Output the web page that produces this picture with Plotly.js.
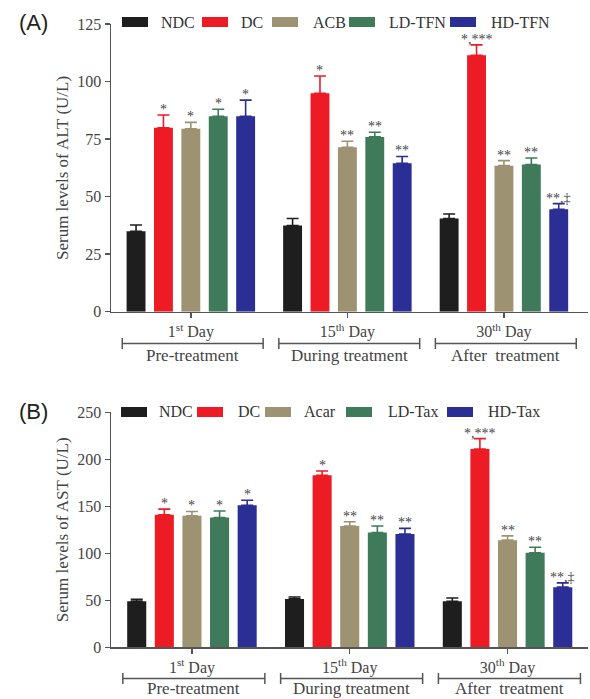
<!DOCTYPE html>
<html>
<head>
<meta charset="utf-8">
<script src="https://cdn.plot.ly/plotly-3.0.1.min.js"></script>
<style>html,body{margin:0;padding:0;background:#fff;}#chart{width:590px;height:699px;}</style>
</head>
<body>
<div id="chart"></div>
<script>
// ---------- data ----------
const categories = ['1<sup>st</sup> Day', '15<sup>th</sup> Day', '30<sup>th</sup> Day'];
const periods = ['Pre-treatment', 'During treatment', 'After  treatment'];

const namesALT = ['NDC', 'DC', 'ACB', 'LD-TFN', 'HD-TFN'];
const namesAST = ['NDC', 'DC', 'Acar', 'LD-Tax', 'HD-Tax'];

// ALT (U/L)
const altNDC = [35, 37.5, 40.5];
const altDC  = [80, 95, 111.5];
const altACB = [79.5, 71.5, 63.5];
const altLD  = [85, 76, 64];
const altHD  = [85, 64.5, 44.5];
const altErrNDC = [2.7, 3, 2];
const altErrDC  = [5.5, 7.5, 4.5];
const altErrACB = [2.8, 2.6, 2.2];
const altErrLD  = [3, 2, 2.8];
const altErrHD  = [7, 3, 2.5];

// AST (U/L)
const astNDC  = [49, 51.5, 49];
const astDC   = [141, 183, 211];
const astAcar = [140, 129, 114];
const astLD   = [138, 122, 100.5];
const astHD   = [151, 120.5, 64];
const astErrNDC  = [2, 2, 3.5];
const astErrDC   = [6, 4.5, 11];
const astErrAcar = [4.5, 4.5, 4.5];
const astErrLD   = [7, 7, 6];
const astErrHD   = [5.5, 6, 4.5];

// significance marks
const sigNDC = ['', '', ''];
const sigDC  = ['*', '*', '*,***'];
const sigT1  = ['*', '**', '**'];
const sigT2  = ['*', '**', '**'];
const sigHD  = ['*', '**', '**,\u2021'];

// ---------- styling ----------
const colors = ['#1e1e1e', '#ed1c24', '#9d9272', '#3f7b5b', '#2b2e95'];
const SERIF = 'Liberation Serif, Times New Roman, serif';
const W = 590, H = 699, ML = 111, MR = 2;
const PW = W - ML - MR;
const px2x = p => (p - ML) / PW;
const py2y = p => 1 - p / H;

const BARGAP = 0.125, BARGROUPGAP = 0.31;
const slot = (1 - BARGAP) / 5;

const altVals = [altNDC, altDC, altACB, altLD, altHD];
const altErrs = [altErrNDC, altErrDC, altErrACB, altErrLD, altErrHD];
const astVals = [astNDC, astDC, astAcar, astLD, astHD];
const astErrs = [astErrNDC, astErrDC, astErrAcar, astErrLD, astErrHD];
const sigs = [sigNDC, sigDC, sigT1, sigT2, sigHD];

const traces = [];
function addPanel(vals, errs, names, xa, ya) {
  vals.forEach((v, i) => {
    traces.push({
      type: 'bar', x: categories, y: v, name: names[i],
      xaxis: xa, yaxis: ya, showlegend: false,
      marker: {color: colors[i], line: {width: 0}},
      error_y: {type: 'data', array: errs[i], arrayminus: v.map(() => 0), symmetric: false,
                color: colors[i], thickness: 1.6, width: 6},
      hoverinfo: 'skip'
    });
  });
}
addPanel(altVals, altErrs, namesALT, 'x', 'y');
addPanel(astVals, astErrs, namesAST, 'x2', 'y2');

const annotations = [];
const shapes = [];

function sigAnn(vals, errs, xr, yr) {
  vals.forEach((v, i) => {
    v.forEach((val, g) => {
      const t = sigs[i][g];
      if (!t) return;
      annotations.push({
        xref: xr, yref: yr, x: g + (i - 2) * slot, y: val + errs[i][g],
        text: t, showarrow: false, yanchor: 'bottom', xanchor: 'center', yshift: -4,
        font: {family: SERIF, size: 14, color: '#444'}
      });
    });
  });
}
sigAnn(altVals, altErrs, 'x', 'y');
sigAnn(astVals, astErrs, 'x2', 'y2');

// legends (custom, wide swatches)
function legend(names, swX, txX, cy) {
  names.forEach((n, i) => {
    shapes.push({type: 'rect', xref: 'paper', yref: 'paper',
      x0: px2x(swX[i]), x1: px2x(swX[i] + 26), y0: py2y(cy + 5), y1: py2y(cy - 5),
      fillcolor: colors[i], line: {width: 0}});
    annotations.push({xref: 'paper', yref: 'paper', x: px2x(txX[i]), y: py2y(cy),
      xanchor: 'left', yanchor: 'middle', showarrow: false, text: n,
      font: {family: SERIF, size: 16, color: '#333'}});
  });
}
legend(namesALT, [122, 202, 272, 349, 450], [159, 239, 311, 387, 489], 22);
legend(namesAST, [121, 197, 265, 346, 447], [157, 236, 302, 386, 486], 412);

// period brackets
function brackets(xr, yLine, yText) {
  periods.forEach((p, g) => {
    const c = g + 0.012, a = c - 0.45, b = c + 0.45;
    const line = {color: '#555', width: 1.5};
    shapes.push({type: 'line', xref: xr, yref: 'paper', x0: a, x1: b, y0: py2y(yLine), y1: py2y(yLine), line});
    shapes.push({type: 'line', xref: xr, yref: 'paper', x0: a, x1: a, y0: py2y(yLine - 5.5), y1: py2y(yLine + 5.5), line});
    shapes.push({type: 'line', xref: xr, yref: 'paper', x0: b, x1: b, y0: py2y(yLine - 5.5), y1: py2y(yLine + 5.5), line});
    annotations.push({xref: xr, yref: 'paper', x: c, y: py2y(yText), showarrow: false,
      xanchor: 'center', yanchor: 'middle', text: p,
      font: {family: SERIF, size: 17, color: '#444'}});
  });
}
brackets('x', 343.5, 355.5);
brackets('x2', 678.5, 688);

// panel letters
annotations.push({xref: 'paper', yref: 'paper', x: px2x(33), y: py2y(22), showarrow: false,
  xanchor: 'center', yanchor: 'middle', text: '(A)', font: {family: 'Liberation Sans, Arial, sans-serif', size: 22, color: '#222'}});
annotations.push({xref: 'paper', yref: 'paper', x: px2x(33), y: py2y(411), showarrow: false,
  xanchor: 'center', yanchor: 'middle', text: '(B)', font: {family: 'Liberation Sans, Arial, sans-serif', size: 22, color: '#222'}});

const axCommon = {
  showline: true, linecolor: '#555', linewidth: 1.5, ticks: 'outside', ticklen: 5,
  tickcolor: '#555', tickwidth: 1.5, showgrid: false, zeroline: false,
  tickfont: {family: SERIF, size: 16, color: '#444'}
};
const titleFont = {family: SERIF, size: 17, color: '#444'};

const layout = {
  width: W, height: H, margin: {l: ML, r: MR, t: 0, b: 0},
  paper_bgcolor: '#fff', plot_bgcolor: '#fff',
  barmode: 'group', bargap: BARGAP, bargroupgap: BARGROUPGAP,
  showlegend: false,
  xaxis: Object.assign({}, axCommon, {domain: [0, 1], anchor: 'y', type: 'category', range: [-0.51, 2.537]}),
  yaxis: Object.assign({}, axCommon, {domain: [py2y(311.7), py2y(24.2)], anchor: 'x', range: [0, 125], tickvals: [0, 25, 50, 75, 100, 125],
    title: {text: 'Serum levels of ALT (U/L)', font: titleFont, standoff: 4}}),
  xaxis2: Object.assign({}, axCommon, {domain: [0, 1], anchor: 'y2', type: 'category', range: [-0.513, 2.51]}),
  yaxis2: Object.assign({}, axCommon, {domain: [py2y(647.3), py2y(412.3)], anchor: 'x2', range: [0, 250], tickvals: [0, 50, 100, 150, 200, 250],
    title: {text: 'Serum levels of AST (U/L)', font: titleFont, standoff: 4}}),
  annotations, shapes
};

Plotly.newPlot('chart', traces, layout, {displayModeBar: false, staticPlot: true});
</script>
</body>
</html>
